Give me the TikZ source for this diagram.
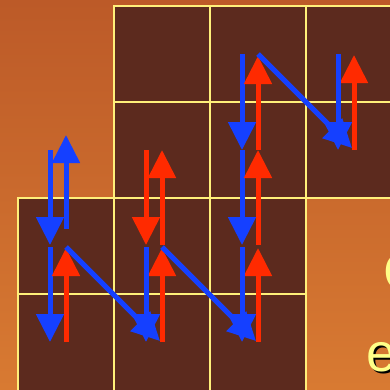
\documentclass[tikz,border=0pt]{standalone}
\usepackage{fontspec}
\setmainfont{Liberation Sans}
\usetikzlibrary{arrows.meta}
\definecolor{bgtop}{HTML}{BC5A28}
\definecolor{bgbot}{HTML}{D87A32}
\definecolor{cellc}{HTML}{5C2A1E}
\definecolor{gridc}{HTML}{FFF07A}
\definecolor{blu}{HTML}{1540FF}
\definecolor{rd}{HTML}{FF2A00}
\definecolor{txtc}{HTML}{FFFF88}
\tikzset{
  cellbox/.style={fill=cellc, draw=gridc, line width=2pt},
  barrow/.style={draw=blu, line width=5pt, -{Triangle[width=27pt,length=28pt]}},
  rarrow/.style={draw=rd, line width=5pt, -{Triangle[width=27pt,length=28pt]}},
  bigtxt/.style={font=\fontsize{54}{60}\selectfont, inner sep=0pt, anchor=base west}
}
\begin{document}
\begin{tikzpicture}[x=1pt,y=-1pt]
\useasboundingbox (0,0) rectangle (390,389);
\clip (0,0) rectangle (390,389);
\shade[top color=bgtop, bottom color=bgbot] (0,0) rectangle (390,389);
% cells
\foreach \x/\ya/\yb in {18/198/294, 18/294/400,
  114/6/102, 114/102/198, 114/198/294, 114/294/400,
  210/6/102, 210/102/198, 210/198/294, 210/294/400,
  306/6/102, 306/102/198}
  \draw[cellbox] (\x,\ya) rectangle ++(96,\yb-\ya);
% text (shadow, then text)
\node[bigtxt, text=black] at (385,292) {C};
\node[bigtxt, text=txtc] (c) at (383,290) {C};
\node[bigtxt, text=black] at (368,373) {e};
\node[bigtxt, text=txtc] (e) at (366,371) {e};
% coordinates
\coordinate (a1) at (50,150); \coordinate (a2) at (50,245);
\coordinate (b1) at (66,229); \coordinate (b2) at (66,135);
\coordinate (c1) at (50,247); \coordinate (c2) at (50,342);
\coordinate (d1) at (66,342); \coordinate (d2) at (66,248);
\coordinate (e1) at (66,247); \coordinate (e2) at (160,341);
\coordinate (f1) at (146,150); \coordinate (f2) at (146,245);
\coordinate (g1) at (162,245); \coordinate (g2) at (162,150);
\coordinate (h1) at (146,247); \coordinate (h2) at (146,342);
\coordinate (i1) at (162,342); \coordinate (i2) at (162,248);
\coordinate (j1) at (162,247); \coordinate (j2) at (256,341);
\coordinate (k1) at (242,54); \coordinate (k2) at (242,150);
\coordinate (l1) at (258,150); \coordinate (l2) at (258,56);
\coordinate (m1) at (242,150); \coordinate (m2) at (242,245);
\coordinate (n1) at (258,245); \coordinate (n2) at (258,150);
\coordinate (o1) at (242,247); \coordinate (o2) at (242,342);
\coordinate (p1) at (258,342); \coordinate (p2) at (258,248);
\coordinate (q1) at (258,54); \coordinate (q2) at (352,148);
\coordinate (r1) at (338,54); \coordinate (r2) at (338,150);
\coordinate (s1) at (354,150); \coordinate (s2) at (354,55);
% arrows
\draw[barrow] (a1) -- (a2);
\draw[barrow] (b1) -- (b2);
\draw[barrow] (c1) -- (c2);
\draw[rarrow] (d1) -- (d2);
\draw[rarrow] (f1) -- (f2);
\draw[rarrow] (g1) -- (g2);
\draw[rarrow] (i1) -- (i2);
\draw[barrow] (h1) -- (h2);
\draw[barrow] (e1) -- (e2);
\draw[rarrow] (p1) -- (p2);
\draw[barrow] (o1) -- (o2);
\draw[barrow] (j1) -- (j2);
\draw[barrow] (k1) -- (k2);
\draw[rarrow] (l1) -- (l2);
\draw[barrow] (m1) -- (m2);
\draw[rarrow] (n1) -- (n2);
\draw[rarrow] (s1) -- (s2);
\draw[barrow] (r1) -- (r2);
\draw[barrow] (q1) -- (q2);
\end{tikzpicture}
\end{document}
